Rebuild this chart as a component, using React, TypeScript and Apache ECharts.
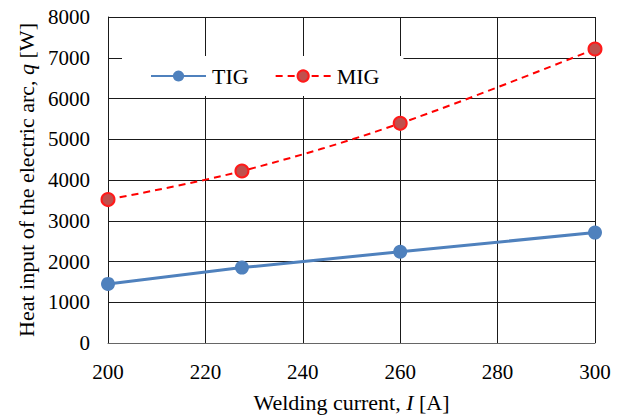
import React, { useEffect, useRef } from "react";
import * as echarts from "echarts";

const currents = [200, 227.5, 260, 300];
const tigValues = [1450, 1850, 2240, 2710];
const migValues = [3520, 4220, 5390, 7215];
const seriesNames = ["TIG", "MIG"];

const FONT = "Liberation Serif";

export default function App() {
  const ref = useRef<HTMLDivElement>(null);
  useEffect(() => {
    document.body.style.margin = "0";
    if (!ref.current) return;
    const chart = echarts.init(ref.current, null, { renderer: "svg" });
    const label = {
      fontFamily: FONT,
      fontSize: 21,
      color: "#000",
      margin: 18,
      formatter: (v: number) => String(v),
    };
    const nameStyle = {
      fontFamily: FONT,
      fontSize: 22,
      color: "#000",
      rich: {
        r: { fontFamily: FONT, fontSize: 22, color: "#000" },
        i: { fontFamily: FONT, fontSize: 22, fontStyle: "italic", color: "#000" },
      },
    };
    chart.setOption({
      animation: false,
      backgroundColor: "#fff",
      textStyle: { fontFamily: FONT, color: "#000" },
      grid: { left: 108, right: 27, top: 17, bottom: 76 },
      legend: {
        left: 122,
        top: 56,
        backgroundColor: "#fff",
        padding: [9, 24, 9, 28],
        itemWidth: 55,
        itemHeight: 14,
        itemGap: 26,
        textStyle: { fontFamily: FONT, fontSize: 22, color: "#000", padding: [0, 0, 0, 1] },
        data: seriesNames,
        z: 10,
      },
      xAxis: {
        type: "value",
        min: 200,
        max: 300,
        interval: 20,
        name: "{r|Welding current, }{i|I}{r| [A]}",
        nameLocation: "middle",
        nameGap: 48,
        nameTextStyle: nameStyle,
        axisLine: { show: true, lineStyle: { color: "#666", width: 1 } },
        axisTick: { show: false },
        axisLabel: label,
        splitLine: { show: true, lineStyle: { color: "#1a1a1a", width: 1 } },
      },
      yAxis: {
        type: "value",
        min: 0,
        max: 8000,
        interval: 1000,
        name: "{r|Heat input of the electric arc, }{i|q}{r| [W]}",
        nameLocation: "middle",
        nameGap: 71,
        nameTextStyle: nameStyle,
        axisLine: { show: true, lineStyle: { color: "#1a1a1a", width: 1 } },
        axisTick: { show: false },
        axisLabel: label,
        splitLine: { show: true, lineStyle: { color: "#1a1a1a", width: 1 } },
      },
      series: [
        {
          name: seriesNames[0],
          type: "line",
          data: currents.map((c, i) => [c, tigValues[i]]),
          lineStyle: { color: "#4F81BD", width: 3 },
          itemStyle: { color: "#4F81BD" },
          symbol: "circle",
          symbolSize: 14,
          z: 3,
        },
        {
          name: seriesNames[1],
          type: "line",
          data: currents.map((c, i) => [c, migValues[i]]),
          smooth: 0.35,
          lineStyle: { color: "#FF0000", width: 2, type: [7, 5] },
          itemStyle: { color: "#C0504D", borderColor: "#FF1A1A", borderWidth: 2 },
          symbol: "circle",
          symbolSize: 13,
          z: 3,
        },
      ],
    });
    return () => chart.dispose();
  }, []);
  return <div ref={ref} style={{ width: 622, height: 419 }} />;
}
